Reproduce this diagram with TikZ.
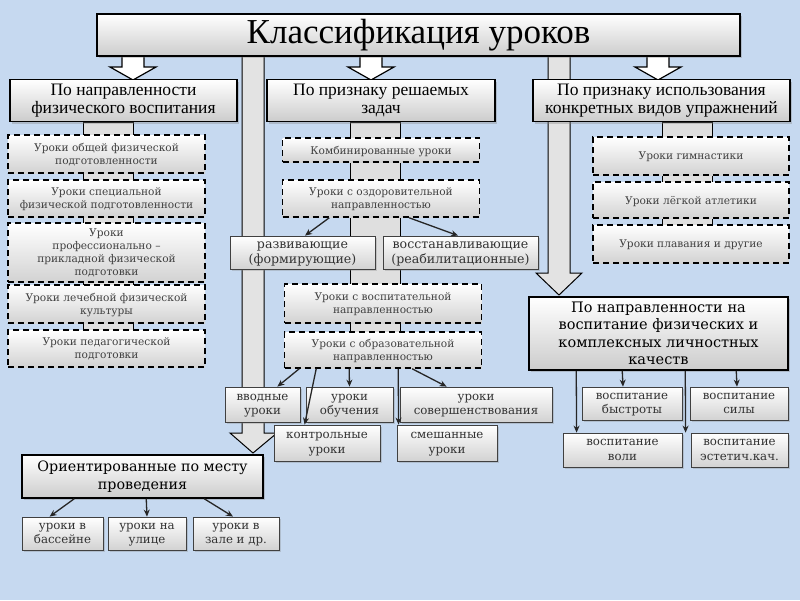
\documentclass[tikz,border=0pt]{standalone}
\usepackage{fontspec}
\setmainfont{Liberation Serif}
\newfontfamily\boxfont{DejaVu Serif}
\usetikzlibrary{arrows.meta,shadows,calc}
\definecolor{bgblue}{RGB}{198,217,240}
\tikzset{
  mainbox/.style={draw=black, line width=1.5pt, top color=white, bottom color=gray!40,
    drop shadow={shadow xshift=2pt, shadow yshift=-2pt, opacity=0.35}, align=center, inner sep=1pt},
  lvltwo/.style={mainbox, minimum height=42pt, font=\fontsize{17.5}{18}\selectfont},
  listbox/.style={draw=black, line width=1.6pt, dash pattern=on 6pt off 4pt, top color=white,
    bottom color=gray!35, align=center, inner sep=1pt, text=black!75,
    font=\boxfont\fontsize{10.6}{13}\selectfont, text depth=-3pt},
  smallbox/.style={draw=gray!50!black, line width=0.8pt, top color=white, bottom color=gray!35,
    drop shadow={shadow xshift=1.5pt, shadow yshift=-1.5pt, opacity=0.3}, align=center,
    inner sep=1pt, text=black!80, font=\boxfont\fontsize{11.8}{14.5}\selectfont, text depth=-3pt},
  strip/.style={fill=gray!25, draw=black, line width=0.6pt},
  bar/.style={fill=gray!22, draw=black, line width=1pt},
  hollow/.style={fill=white, draw=black, line width=1.2pt},
  arr/.style={-{Stealth[length=7pt,width=6pt]}, line width=1.3pt, black!85}
}
\begin{document}
\begin{tikzpicture}[x=1pt,y=-1pt]
\useasboundingbox (0,0) rectangle (800,600);
\fill[bgblue] (0,0) rectangle (800,600);

% background bars and strips
\foreach \sx/\ya/\yb in {108/122/330, 375/122/332, 687/122/225}
  \draw[strip] (\sx-25,\ya) rectangle (\sx+25,\yb);
\draw[bar] (242,50) -- (264,50) -- (264,433) -- (277,433) -- (253,453) -- (230,433) -- (242,433) -- cycle;
\draw[bar] (548,50) -- (570,50) -- (570,273) -- (582,273) -- (559,295) -- (536,273) -- (548,273) -- cycle;
\foreach \cx in {133,371,658}
  \draw[hollow] (\cx-11,54) -- (\cx+11,54) -- (\cx+11,67) -- (\cx+23,67) -- (\cx,80)
    -- (\cx-23,67) -- (\cx-11,67) -- cycle;

% title and first level
\node[mainbox, minimum width=643pt, minimum height=42pt, font=\fontsize{35}{40}\selectfont]
  (title) at (418.5,35) {Классификация уроков};
\node[lvltwo, minimum width=227pt] (napr) at (123.5,100.5) {По направленности\\физического воспитания};
\node[lvltwo, minimum width=228pt] (zadach) at (381,100.5) {По признаку решаемых\\задач};
\node[lvltwo, minimum width=257pt] (uprazh) at (661.5,100.5) {По признаку использования\\конкретных видов упражнений};

% column of physical education
\node[listbox, minimum width=197pt, minimum height=38pt] (obsch) at (106.5,154) {Уроки общей физической\\подготовленности};
\node[listbox, minimum width=197pt, minimum height=37pt] (spec) at (106.5,198.5) {Уроки специальной\\физической подготовленности};
\node[listbox, minimum width=197pt, minimum height=59pt] (prof) at (106.5,252.5) {Уроки\\профессионально –\\прикладной физической\\подготовки};
\node[listbox, minimum width=197pt, minimum height=38pt] (lech) at (106.5,304) {Уроки лечебной физической\\культуры};
\node[listbox, minimum width=197pt, minimum height=37pt] (ped) at (106.5,348.5) {Уроки педагогической\\подготовки};

% column of tasks
\node[listbox, minimum width=197pt, minimum height=24pt] (komb) at (381,150) {Комбинированные уроки};
\node[listbox, minimum width=197pt, minimum height=37pt] (ozdor) at (381,198.5) {Уроки с оздоровительной\\направленностью};
\node[smallbox, minimum width=145pt, minimum height=33pt, text depth=-6pt, font=\boxfont\fontsize{12.6}{15.5}\selectfont]
  (razv) at (302.5,252.5) {развивающие\\(формирующие)};
\node[smallbox, minimum width=155pt, minimum height=33pt, text depth=-6pt, font=\boxfont\fontsize{12.6}{15.5}\selectfont]
  (vosst) at (460.5,252.5) {восстанавливающие\\(реабилитационные)};
\node[listbox, minimum width=197pt, minimum height=39pt] (vospit) at (383,303.5) {Уроки с воспитательной\\направленностью};
\node[listbox, minimum width=197pt, minimum height=36pt] (obraz) at (383,350) {Уроки с образовательной\\направленностью};

\node[smallbox, minimum width=75pt, minimum height=35pt] (vvod) at (262.5,404.5) {вводные\\уроки};
\node[smallbox, minimum width=87pt, minimum height=35pt] (obuch) at (349.5,404.5) {уроки\\обучения};
\node[smallbox, minimum width=152pt, minimum height=35pt] (sover) at (476,404.5) {уроки\\совершенствования};
\node[smallbox, minimum width=106pt, minimum height=36pt] (kontr) at (327,443) {контрольные\\уроки};
\node[smallbox, minimum width=100pt, minimum height=36pt] (smesh) at (447,443) {смешанные\\уроки};

% place of lessons
\node[mainbox, minimum width=241pt, minimum height=43pt, font=\boxfont\fontsize{14.3}{18.5}\selectfont]
  (mesto) at (142.5,476.5) {Ориентированные по месту\\проведения};
\node[smallbox, minimum width=81pt, minimum height=33pt] (bass) at (62.5,533.5) {уроки в\\бассейне};
\node[smallbox, minimum width=78pt, minimum height=33pt] (ulic) at (147,533.5) {уроки на\\улице};
\node[smallbox, minimum width=86pt, minimum height=33pt] (zal) at (236,533.5) {уроки в\\зале и др.};

% column of exercises
\node[listbox, minimum width=196pt, minimum height=38pt] (gimn) at (691,156) {Уроки гимнастики};
\node[listbox, minimum width=196pt, minimum height=36pt] (atlet) at (691,200) {Уроки лёгкой атлетики};
\node[listbox, minimum width=196pt, minimum height=38pt] (plav) at (691,244) {Уроки плавания и другие};

% qualities
\node[mainbox, minimum width=259pt, minimum height=73pt, font=\boxfont\fontsize{14.5}{17.5}\selectfont]
  (kach) at (658.5,333.5) {По направленности на\\воспитание физических и\\комплексных личностных\\качеств};
\node[smallbox, minimum width=100pt, minimum height=33pt] (bystr) at (632,403.5) {воспитание\\быстроты};
\node[smallbox, minimum width=98pt, minimum height=33pt] (sila) at (739,403.5) {воспитание\\силы};
\node[smallbox, minimum width=119pt, minimum height=34pt] (voli) at (622.5,450) {воспитание\\воли};
\node[smallbox, minimum width=97pt, minimum height=34pt] (estet) at (739.5,450) {воспитание\\эстетич.кач.};

% thin arrows
\draw[arr] ([xshift=47.5pt]ozdor.south west) -- ([xshift=2.5pt]razv.north);
\draw[arr] ([xshift=127.5pt]ozdor.south west) -- ([xshift=-2.5pt]vosst.north);
\draw[arr] ([xshift=15.5pt]obraz.south west) -- ([xshift=-23pt]vvod.north east);
\draw[arr] ([xshift=32.5pt]obraz.south west) -- ([xshift=31pt]kontr.north west);
\draw[arr] ([xshift=65.5pt]obraz.south west) -- (obuch.north);
\draw[arr] ([xshift=114.5pt]obraz.south west) -- ([xshift=2pt]smesh.north west);
\draw[arr] ([xshift=128.5pt]obraz.south west) -- ([xshift=47pt]sover.north west);
\draw[arr] ([xshift=53pt]mesto.south west) -- ([xshift=28pt]bass.north west);
\draw[arr] ([xshift=125pt]mesto.south west) -- (ulic.north);
\draw[arr] ([xshift=183pt]mesto.south west) -- ([xshift=-3pt]zal.north);
\draw[arr] ([xshift=48pt]kach.south west) -- ([xshift=14pt]voli.north west);
\draw[arr] ([xshift=94pt]kach.south west) -- ([xshift=-9pt]bystr.north);
\draw[arr] ([xshift=157pt]kach.south west) -- ([xshift=-5pt]estet.north west);
\draw[arr] ([xshift=208pt]kach.south west) -- ([xshift=-2pt]sila.north);
\end{tikzpicture}
\end{document}
